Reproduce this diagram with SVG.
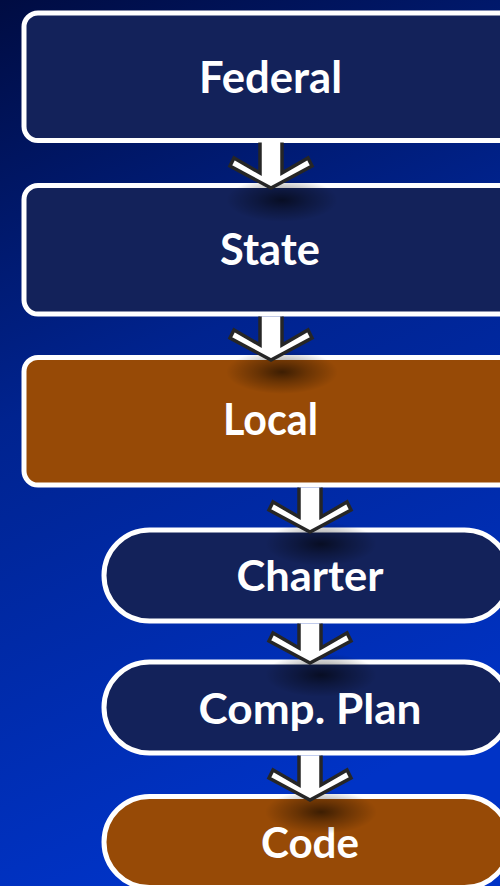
<svg xmlns="http://www.w3.org/2000/svg" width="500" height="886" viewBox="0 0 500 886">
<defs>
<linearGradient id="bg" x1="0" y1="0" x2="0.25" y2="1">
<stop offset="0" stop-color="#000c42"/>
<stop offset="0.45" stop-color="#00238f"/>
<stop offset="1" stop-color="#0033c6"/>
</linearGradient>
<radialGradient id="sh">
<stop offset="0" stop-color="#000000" stop-opacity="0.6"/>
<stop offset="0.45" stop-color="#000000" stop-opacity="0.3"/>
<stop offset="1" stop-color="#000000" stop-opacity="0"/>
</radialGradient>
<style>
.box{stroke:#ffffff;stroke-width:5}
.navy{fill:#13225a}
.orange{fill:#974a06}
.lbl{font-family:Lato,"Open Sans","Liberation Sans",sans-serif;font-weight:700;fill:#ffffff;text-anchor:middle}
.big{font-size:44px}
.sm{font-size:42px}
.arrow{fill:#ffffff;stroke:#262626;stroke-width:3.5;stroke-linejoin:miter}
.shadow{fill:url(#sh)}
</style>
</defs>
<rect x="0" y="0" width="500" height="886" fill="url(#bg)"/>
<g id="federal">
<rect class="box navy" x="24" y="13" width="493" height="127.5" rx="14"/>
<text class="lbl big" x="270.5" y="93" textLength="143" lengthAdjust="spacingAndGlyphs">Federal</text>
</g>
<g id="state">
<rect class="box navy" x="24" y="185.5" width="493" height="128.5" rx="14"/>
<text class="lbl big" x="270" y="265" textLength="100" lengthAdjust="spacingAndGlyphs">State</text>
</g>
<g id="local">
<rect class="box orange" x="24" y="357.5" width="493" height="127.5" rx="14"/>
<text class="lbl big" x="270.5" y="435" textLength="95" lengthAdjust="spacingAndGlyphs">Local</text>
</g>
<g id="charter">
<rect class="box navy" x="104" y="530" width="406" height="91" rx="45.5"/>
<text class="lbl sm" x="310" y="591" textLength="147" lengthAdjust="spacingAndGlyphs">Charter</text>
</g>
<g id="comp-plan">
<rect class="box navy" x="104" y="662" width="406" height="91" rx="45.5"/>
<text class="lbl sm" x="310" y="724" textLength="223" lengthAdjust="spacingAndGlyphs">Comp. Plan</text>
</g>
<g id="code">
<rect class="box orange" x="104" y="796.5" width="406" height="91" rx="45.5"/>
<text class="lbl sm" x="310" y="858" textLength="98" lengthAdjust="spacingAndGlyphs">Code</text>
</g>
<g id="connectors">
<ellipse class="shadow" cx="282" cy="200" rx="56" ry="22"/>
<ellipse class="shadow" cx="282" cy="372" rx="56" ry="22"/>
<ellipse class="shadow" cx="321" cy="544" rx="56" ry="22"/>
<ellipse class="shadow" cx="321" cy="675" rx="56" ry="22"/>
<ellipse class="shadow" cx="321" cy="812" rx="56" ry="22"/>
<path class="arrow" d="M260,142.5 L260,173 L234,158 L230,166 L271,188 L312,166 L308,158 L282,173 L282,142.5"/>
<path class="arrow" d="M260,316.5 L260,345 L234,330 L230,338 L271,360 L312,338 L308,330 L282,345 L282,316.5"/>
<path class="arrow" d="M299,487.5 L299,517 L273,502 L269,510 L310,532 L351,510 L347,502 L321,517 L321,487.5"/>
<path class="arrow" d="M299,623.5 L299,648 L273,633 L269,641 L310,663 L351,641 L347,633 L321,648 L321,623.5"/>
<path class="arrow" d="M299,755.5 L299,785 L273,770 L269,778 L310,800 L351,778 L347,770 L321,785 L321,755.5"/>
</g>
</svg>
